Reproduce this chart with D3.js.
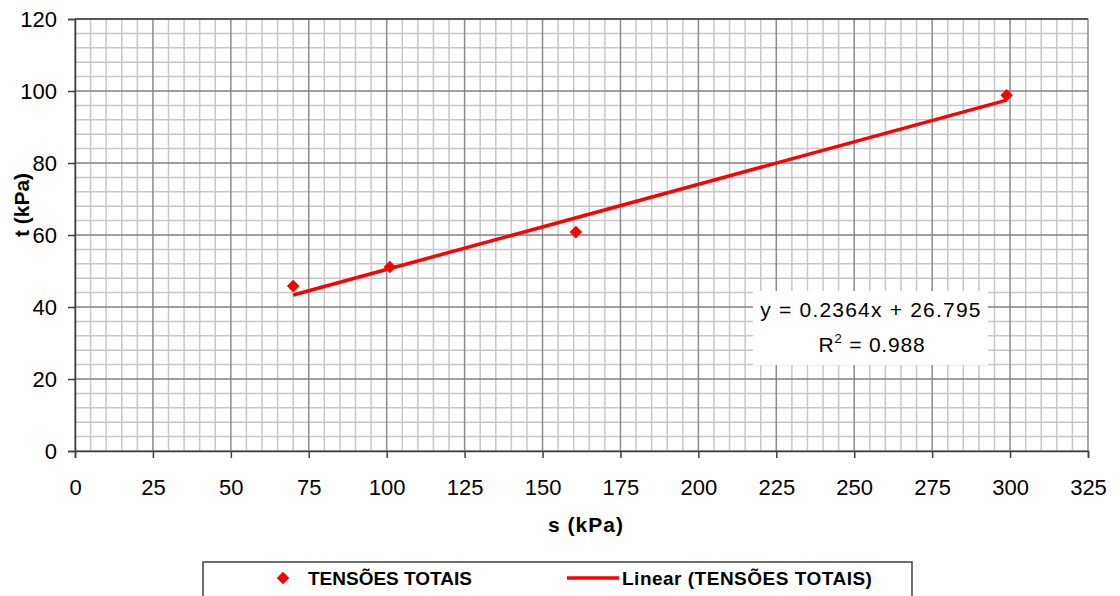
<!DOCTYPE html>
<html><head><meta charset="utf-8">
<script src="https://cdn.jsdelivr.net/npm/d3@7"></script>
<style>body{margin:0;background:#fff}svg{display:block;font-family:"Liberation Sans",Arial,sans-serif}</style>
</head><body><svg id="c" width="1120" height="596"></svg>
<script>
const sValues = [70, 101, 160.7, 298.9];
const tValues = [45.8, 51.1, 60.8, 98.8];
const xTicks = [0,25,50,75,100,125,150,175,200,225,250,275,300,325];
const yTicks = [0,20,40,60,80,100,120];
const slope = 0.2364, intercept = 26.795;
const eqLabel = "y = 0.2364x + 26.795";
const r2Value = "0.988";
const seriesName = "TENSÕES TOTAIS";
const trendName = "Linear (TENSÕES TOTAIS)";

const svg = d3.select("#c");
const L=75,R=1088,T=19,B=451;
const x = d3.scaleLinear().domain([0,325]).range([L,R]);
const y = d3.scaleLinear().domain([0,120]).range([B,T]);

const g = svg.append("g");
// minor grid
d3.range(0,326,5).filter(v=>v%25).forEach(v=>g.append("line").attr("x1",x(v)).attr("x2",x(v)).attr("y1",T).attr("y2",B).attr("stroke","#c8c8c8").attr("stroke-width",1.5));
d3.range(0,121,4).filter(v=>v%20).forEach(v=>g.append("line").attr("x1",L).attr("x2",R).attr("y1",y(v)).attr("y2",y(v)).attr("stroke","#c8c8c8").attr("stroke-width",1.5));
// major grid
xTicks.forEach(v=>g.append("line").attr("x1",x(v)).attr("x2",x(v)).attr("y1",T).attr("y2",B).attr("stroke","#8c8c8c").attr("stroke-width",1.5));
yTicks.forEach(v=>g.append("line").attr("x1",L).attr("x2",R).attr("y1",y(v)).attr("y2",y(v)).attr("stroke","#808080").attr("stroke-width",1.5));
// top border
g.append("line").attr("x1",L).attr("x2",R).attr("y1",T).attr("y2",T).attr("stroke","#404040").attr("stroke-width",1.5);

// axes
const xa = svg.append("g").attr("transform",`translate(0,${B})`)
  .call(d3.axisBottom(x).tickValues(xTicks).tickSize(7).tickPadding(21));
const ya = svg.append("g").attr("transform",`translate(${L},0)`)
  .call(d3.axisLeft(y).tickValues(yTicks).tickSize(7).tickPadding(11));
[xa,ya].forEach(a=>{
  a.select(".domain").attr("stroke","#404040").attr("stroke-width",1.5);
  a.selectAll(".tick line").attr("stroke","#404040").attr("stroke-width",1.5);
  a.selectAll("text").attr("font-size",22).attr("fill","#000").attr("font-family","Liberation Sans, Arial, sans-serif");
});

// trend line
const x0 = d3.min(sValues), x1 = d3.max(sValues);
svg.append("line").attr("x1",x(x0)).attr("y1",y(slope*x0+intercept))
  .attr("x2",x(x1)).attr("y2",y(slope*x1+intercept))
  .attr("stroke","#ff0000").attr("stroke-width",3.5);

// points
const diamond = d3.symbol().type(d3.symbolDiamond2).size(100);
svg.append("g").selectAll("path").data(sValues).join("path")
  .attr("d",diamond)
  .attr("transform",(d,i)=>`translate(${x(d)},${y(tValues[i])})`)
  .attr("fill","#ff0000");

// equation box
const bx = svg.append("g");
bx.append("rect").attr("x",753).attr("y",291).attr("width",235).attr("height",74).attr("fill","#fff");
bx.append("text").attr("x",871).attr("y",317).attr("text-anchor","middle").attr("font-size",21).attr("letter-spacing",1.2).text(eqLabel);
const r2 = bx.append("text").attr("x",872).attr("y",352).attr("text-anchor","middle").attr("font-size",21).attr("letter-spacing",0.8);
r2.append("tspan").text("R");
r2.append("tspan").attr("dy",-9).attr("font-size",13).text("2");
r2.append("tspan").attr("dy",9).text(" = "+r2Value);

// axis titles
svg.append("text").attr("x",586).attr("y",532).attr("text-anchor","middle").attr("font-size",21).attr("font-weight","bold").attr("letter-spacing",1).text("s (kPa)");
svg.append("text").attr("transform","translate(29,205) rotate(-90)").attr("text-anchor","middle").attr("font-size",21).attr("font-weight","bold").text("t (kPa)");

// legend
const lg = svg.append("g");
lg.append("rect").attr("x",203).attr("y",562).attr("width",709).attr("height",40).attr("fill","#fff").attr("stroke","#404040").attr("stroke-width",1.5);
lg.append("path").attr("d",diamond).attr("transform","translate(283,578)").attr("fill","#ff0000");
lg.append("text").attr("x",308).attr("y",585).attr("font-size",19).attr("font-weight","bold").text(seriesName);
lg.append("line").attr("x1",567).attr("x2",619).attr("y1",578).attr("y2",578).attr("stroke","#ff0000").attr("stroke-width",3.5);
lg.append("text").attr("x",622).attr("y",585).attr("font-size",19).attr("font-weight","bold").attr("letter-spacing",0.5).text(trendName);
</script></body></html>
